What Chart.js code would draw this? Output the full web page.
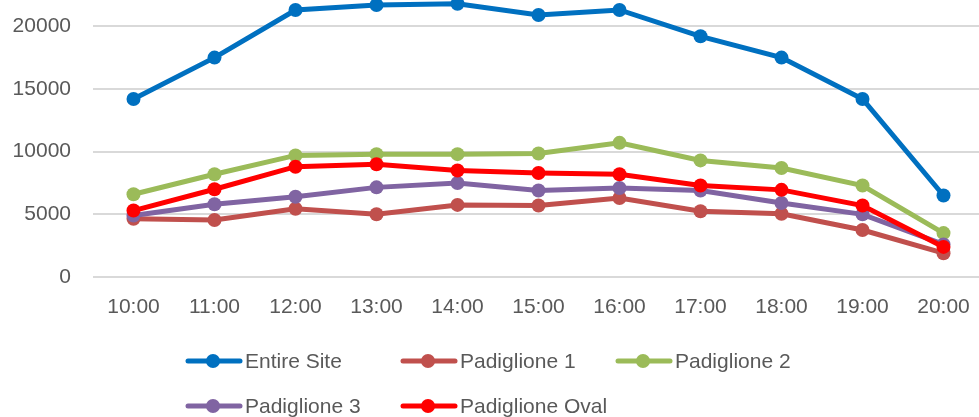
<!DOCTYPE html>
<html>
<head>
<meta charset="utf-8">
<script src="https://cdn.jsdelivr.net/npm/chart.js@4.4.0/dist/chart.umd.min.js"></script>
<style>
html, body { margin: 0; padding: 0; background: #fff; overflow: hidden; width: 979px; height: 417px; }
#wrap { position: absolute; left: 0; top: -71px; width: 991px; height: 488px; }
</style>
</head>
<body>
<div id="wrap"><canvas id="myChart"></canvas></div>
<script>
const HOURS = ['10:00', '11:00', '12:00', '13:00', '14:00', '15:00', '16:00', '17:00', '18:00', '19:00', '20:00'];

const ENTIRE_SITE = [14200, 17500, 21300, 21700, 21800, 20900, 21300, 19200, 17500, 14200, 6500];
const PADIGLIONE_1 = [4650, 4550, 5450, 5000, 5750, 5700, 6300, 5250, 5050, 3750, 1900];
const PADIGLIONE_2 = [6600, 8200, 9700, 9800, 9800, 9850, 10700, 9300, 8700, 7300, 3500];
const PADIGLIONE_3 = [4900, 5800, 6400, 7150, 7500, 6900, 7100, 6900, 5900, 5000, 2600];
const PADIGLIONE_OVAL = [5300, 7000, 8800, 9000, 8500, 8300, 8200, 7300, 6950, 5700, 2400];

const SERIES_NAMES = ['Entire Site', 'Padiglione 1', 'Padiglione 2', 'Padiglione 3', 'Padiglione Oval'];
const SERIES_VALUES = [ENTIRE_SITE, PADIGLIONE_1, PADIGLIONE_2, PADIGLIONE_3, PADIGLIONE_OVAL];
const SERIES_COLORS = ['#0070C0', '#C0504D', '#9BBB59', '#8064A2', '#FF0000'];

const Y_MIN = 0;
const Y_MAX = 25000;   // top tick sits above the visible crop
const Y_STEP = 5000;

const TOP_CROP = 71;
const TEXT_COLOR = '#595959';

Chart.defaults.font.family = '"Liberation Sans", Arial, sans-serif';
Chart.defaults.font.size = 21;
Chart.defaults.color = TEXT_COLOR;

// excel style legend: fixed columns, 3 per row
const excelLegend = {
  id: 'excelLegend',
  afterDraw(chart) {
    const ctx = chart.ctx;
    chart.data.datasets.forEach((ds, i) => {
      const x = 186 + (i % 3) * 215;
      const y = TOP_CROP + 361 + Math.floor(i / 3) * 45;
      ctx.save();
      ctx.strokeStyle = ds.borderColor;
      ctx.lineWidth = 5;
      ctx.lineCap = 'round';
      ctx.beginPath();
      ctx.moveTo(x + 2, y);
      ctx.lineTo(x + 54, y);
      ctx.stroke();
      ctx.fillStyle = ds.borderColor;
      ctx.beginPath();
      ctx.arc(x + 27, y, 7, 0, Math.PI * 2);
      ctx.fill();
      ctx.fillStyle = TEXT_COLOR;
      ctx.font = '21px "Liberation Sans", Arial, sans-serif';
      ctx.textBaseline = 'middle';
      ctx.fillText(ds.label, x + 59, y + 1);
      ctx.restore();
    });
  }
};

const datasets = SERIES_NAMES.map((name, i) => ({
  label: name,
  data: SERIES_VALUES[i],
  borderColor: SERIES_COLORS[i],
  backgroundColor: SERIES_COLORS[i],
  borderWidth: 5,
  pointRadius: 7,
  pointBorderWidth: 0,
  pointBackgroundColor: SERIES_COLORS[i],
  tension: 0,
  fill: false,
  order: SERIES_NAMES.length - i   // later series drawn on top, like excel
}));

const chart = new Chart(document.querySelector('#myChart'), {
  type: 'line',
  data: { labels: HOURS, datasets: datasets },
  options: {
    responsive: true,
    maintainAspectRatio: false,
    animation: false,
    layout: { padding: { top: 1, right: 0, bottom: 88, left: 0 } },
    plugins: {
      legend: { display: false },
      tooltip: { enabled: false }
    },
    scales: {
      x: {
        offset: true,
        grid: { display: false, drawTicks: false },
        border: { display: false },
        ticks: { padding: 18, maxRotation: 0 },
        afterFit(scale) { scale.height = 52; }
      },
      y: {
        min: Y_MIN,
        max: Y_MAX,
        ticks: { stepSize: Y_STEP, padding: 22, callback: (v) => String(v) },
        grid: { color: '#D9D9D9', lineWidth: 2, drawTicks: false },
        border: { display: false },
        afterFit(scale) { scale.width = 93; }
      }
    }
  },
  plugins: [excelLegend]
});
</script>
</body>
</html>
